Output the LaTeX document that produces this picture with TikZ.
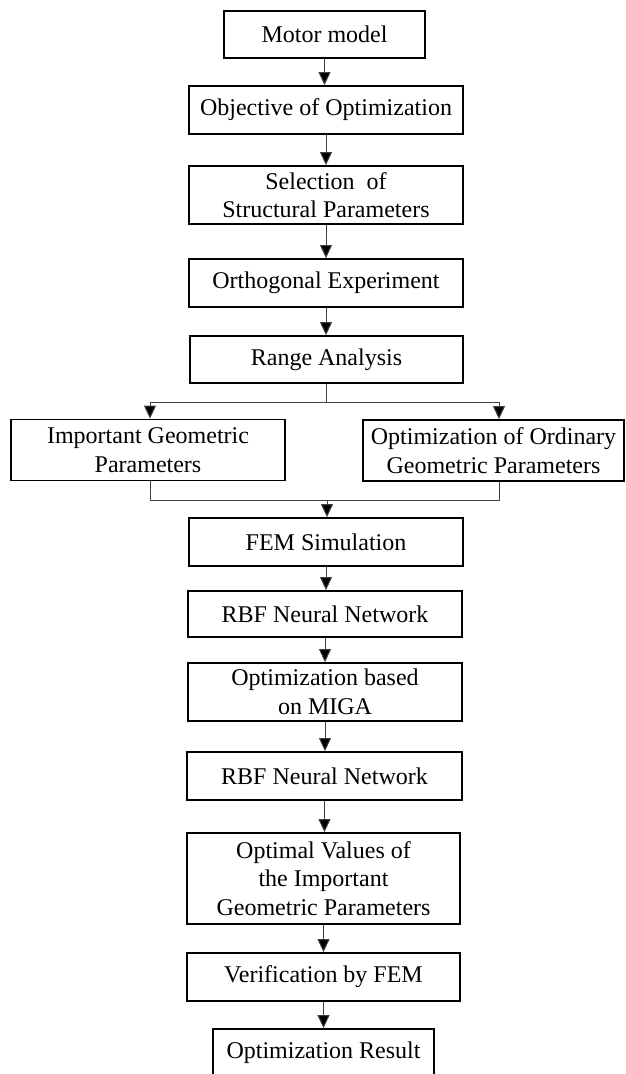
\documentclass[tikz,border=0pt]{standalone}
\usepackage{fontspec}
\setmainfont{Liberation Serif}
\usetikzlibrary{arrows.meta}
\begin{document}
\begin{tikzpicture}[x=1pt,y=-1pt,
  box/.style={draw=black, line width=1.8pt, align=center, inner sep=0pt,
    font=\fontsize{24}{28.5}\selectfont},
  conn/.style={draw=black!75, line width=1pt},
  arr/.style={conn, -{Triangle[width=12pt,length=13pt,fill=black]}}]
\useasboundingbox (0,0) rectangle (625,1074);
\node[box, minimum width=201, minimum height=47] (motor) at (324.5,34.5) {Motor model};
\node[box, minimum width=274, minimum height=48] (obj) at (326,110) {Objective of Optimization};
\node[box, minimum width=274, minimum height=58] (sel) at (326,195) {Selection\ \ of\\Structural Parameters};
\node[box, minimum width=274, minimum height=48] (orth) at (326,283) {Orthogonal Experiment};
\node[box, minimum width=273, minimum height=47] (range) at (326.5,359.5) {Range Analysis};
\node[box, minimum width=274, minimum height=61] (imp) at (148,450) {Important Geometric\\Parameters};
\node[box, minimum width=261, minimum height=61] (ord) at (493.5,450.5) {Optimization of Ordinary\\Geometric Parameters};
\node[box, minimum width=274, minimum height=48] (fem) at (326,542) {FEM Simulation};
\node[box, minimum width=274, minimum height=46] (rbfa) at (325,614) {RBF Neural Network};
\node[box, minimum width=274, minimum height=58] (miga) at (325,692) {Optimization based\\on MIGA};
\node[box, minimum width=275, minimum height=48] (rbfb) at (324.5,776) {RBF Neural Network};
\node[box, minimum width=273, minimum height=91] (optv) at (323.5,878.5) {Optimal Values of\\the Important\\Geometric Parameters};
\node[box, minimum width=273, minimum height=48] (ver) at (323.5,977) {Verification by FEM};
\node[box, minimum width=221, minimum height=47] (res) at (323.5,1052.5) {Optimization Result};
\coordinate (split) at (326.5,402);
\coordinate (sl) at (150,402);
\coordinate (sr) at (499,402);
\coordinate (merge) at (327,500);
\coordinate (ml) at (150,500);
\coordinate (mr) at (499,500);
\draw[arr] (motor.south) -- (motor.south |- obj.north);
\draw[arr] (obj.south) -- (obj.south |- sel.north);
\draw[arr] (sel.south) -- (sel.south |- orth.north);
\draw[arr] (orth.south) -- (orth.south |- range.north);
\draw[conn] (range.south) -- (split);
\draw[arr] (split) -- (sl) -- (sl |- imp.north);
\draw[arr] (split) -- (sr) -- (sr |- ord.north);
\draw[conn] (ml |- imp.south) -- (ml) -- (merge);
\draw[conn] (mr |- ord.south) -- (mr) -- (merge);
\draw[arr] (merge) -- (merge |- fem.north);
\draw[arr] (fem.south) -- (fem.south |- rbfa.north);
\draw[arr] (rbfa.south) -- (rbfa.south |- miga.north);
\draw[arr] (miga.south) -- (miga.south |- rbfb.north);
\draw[arr] (rbfb.south) -- (rbfb.south |- optv.north);
\draw[arr] (optv.south) -- (optv.south |- ver.north);
\draw[arr] (ver.south) -- (ver.south |- res.north);
\end{tikzpicture}
\end{document}
